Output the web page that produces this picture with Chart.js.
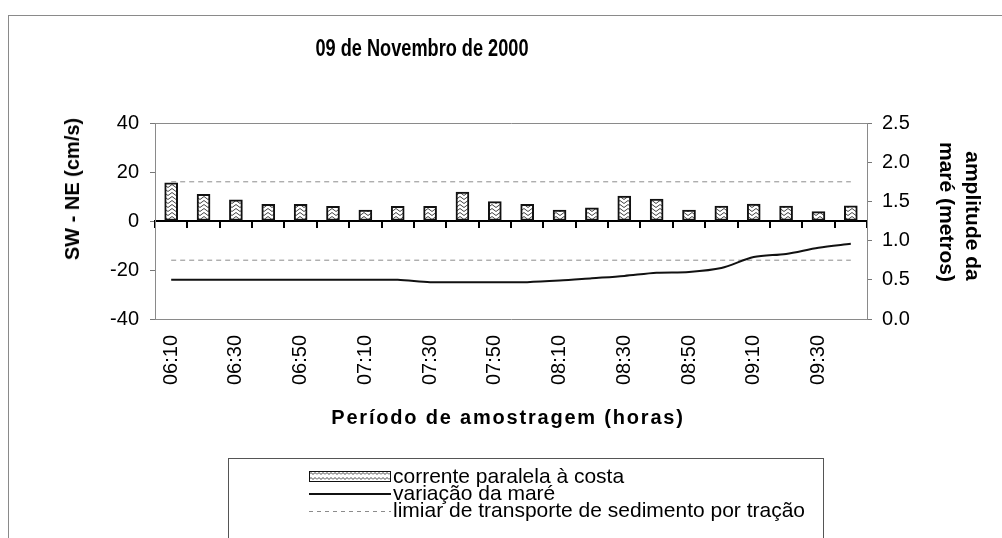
<!DOCTYPE html>
<html>
<head>
<meta charset="utf-8">
<script src="https://cdn.jsdelivr.net/npm/chart.js@4.4.0/dist/chart.umd.min.js"></script>
<style>
html,body{margin:0;padding:0;background:#fff;}
#wrap{position:relative;width:1002px;height:538px;overflow:hidden;font-family:"Liberation Sans",Arial,sans-serif;color:#000;}
#chart{position:absolute;left:0;top:0;}
#frame{position:absolute;left:8px;top:15px;width:1200px;height:800px;border-left:1px solid #8a8a8a;border-top:1px solid #8a8a8a;}
.txt{position:absolute;white-space:nowrap;line-height:1;}
#title{left:422px;top:48px;font-weight:bold;font-size:23px;transform:translate(-50%,-50%) scaleX(0.79);}
#ytitle{left:72px;top:189px;font-weight:bold;font-size:20px;transform:translate(-50%,-50%) rotate(-90deg);}
#y1title1{left:973px;top:216px;font-weight:bold;font-size:21px;transform:translate(-50%,-50%) rotate(90deg);}
#y1title2{left:947px;top:212px;font-weight:bold;font-size:21px;transform:translate(-50%,-50%) rotate(90deg);}
#xtitle{left:508px;top:417px;font-weight:bold;font-size:20px;letter-spacing:1.8px;transform:translate(-50%,-50%);}
#legend{position:absolute;left:228px;top:458px;width:594px;height:120px;border:1px solid #555;}
.lg{position:absolute;left:80px;height:18px;}
.lg canvas{position:absolute;left:0;top:4px;}
.lg span{position:absolute;left:84px;top:0;font-size:21px;line-height:18px;white-space:nowrap;}
</style>
</head>
<body>
<div id="wrap">
  <div id="frame"></div>
  <canvas id="chart" width="1002" height="538"></canvas>
  <div class="txt" id="title">09 de Novembro de 2000</div>
  <div class="txt" id="ytitle">SW - NE (cm/s)</div>
  <div class="txt" id="y1title1">amplitude da</div>
  <div class="txt" id="y1title2">maré (metros)</div>
  <div class="txt" id="xtitle">Período de amostragem (horas)</div>
  <div id="legend">
    <div class="lg" style="top:8px"><canvas id="sw1" width="82" height="11"></canvas><span>corrente paralela à costa</span></div>
    <div class="lg" style="top:25px"><canvas id="sw2" width="82" height="11"></canvas><span>variação da maré</span></div>
    <div class="lg" style="top:42px"><canvas id="sw3" width="82" height="11"></canvas><span>limiar de transporte de sedimento por tração</span></div>
  </div>
</div>
<script>
// ---- data ----
const categories = ["06:10","06:20","06:30","06:40","06:50","07:00","07:10","07:20","07:30","07:40","07:50",
                    "08:00","08:10","08:20","08:30","08:40","08:50","09:00","09:10","09:20","09:30","09:40"];
const xTickLabels = ["06:10","","06:30","","06:50","","07:10","","07:30","","07:50",
                     "","08:10","","08:30","","08:50","","09:10","","09:30",""];
const currentValues = [15.6,10.9,8.6,6.8,6.8,6.0,4.5,6.0,6.0,11.8,7.9,6.8,4.5,5.4,10.2,8.9,4.5,6.1,6.9,6.1,3.8,6.2];
const tideValues = [0.50,0.50,0.50,0.50,0.50,0.50,0.50,0.50,0.47,0.47,0.47,0.47,0.49,0.52,0.55,0.59,0.60,0.65,0.79,0.83,0.91,0.96];
const thresholdUpper = [16,16,16,16,16,16,16,16,16,16,16,16,16,16,16,16,16,16,16,16,16,16];
const thresholdLower = [-16,-16,-16,-16,-16,-16,-16,-16,-16,-16,-16,-16,-16,-16,-16,-16,-16,-16,-16,-16,-16,-16];
const leftTicks = [-40,-20,0,20,40];
const rightTicks = [0,0.5,1,1.5,2,2.5];

// ---- pattern ----
function makePattern(ctx, horizontal){
  const t = document.createElement('canvas');
  t.width = 8; t.height = horizontal ? 5 : 4;
  const c = t.getContext('2d');
  c.fillStyle = '#fff'; c.fillRect(0,0,t.width,t.height);
  c.strokeStyle = '#444'; c.lineWidth = 1;
  c.beginPath();
  if (horizontal){ c.moveTo(0,3.5); c.lineTo(2,1.5); c.lineTo(4,3.5); c.lineTo(6,1.5); c.lineTo(8,3.5); }
  else { c.moveTo(0,3.5); c.lineTo(4,0.5); c.lineTo(8,3.5); }
  c.stroke();
  return ctx.createPattern(t,'repeat');
}

const canvas = document.getElementById('chart');
const ctx = canvas.getContext('2d');
const barPattern = makePattern(ctx, false);
const FONT = "'Liberation Sans', Arial, sans-serif";

new Chart(ctx, {
  type: 'bar',
  data: {
    labels: categories,
    datasets: [
      { type:'line', label:'limiar de transporte de sedimento por tração', data: thresholdUpper, yAxisID:'y', xAxisID:'x',
        borderColor:'#8c8c8c', borderWidth:1, borderDash:[5,4], pointRadius:0, fill:false, order:1 },
      { type:'line', label:'limiar inferior', data: thresholdLower, yAxisID:'y', xAxisID:'x',
        borderColor:'#8c8c8c', borderWidth:1, borderDash:[5,4], pointRadius:0, fill:false, order:1 },
      { type:'line', label:'variação da maré', data: tideValues, yAxisID:'y1', xAxisID:'x',
        borderColor:'#111', borderWidth:2, pointRadius:0, tension:0.3, fill:false, order:0 },
      { type:'bar', label:'corrente paralela à costa', data: currentValues, yAxisID:'y', xAxisID:'x',
        backgroundColor: barPattern, borderColor:'#111', borderWidth:2, borderSkipped:false,
        barThickness:13, order:2 }
    ]
  },
  options: {
    responsive:false, animation:false, devicePixelRatio:1,
    layout:{ padding:{ top:123, left:0, right:0, bottom:0 } },
    plugins:{ legend:{display:false}, title:{display:false}, tooltip:{enabled:false} },
    scales:{
      x:{ type:'category', position:'bottom', offset:true,
          grid:{ display:true, offset:true, drawOnChartArea:false, drawTicks:false },
          border:{ display:true, color:'#8a8a8a', width:1 },
          ticks:{ autoSkip:false, minRotation:90, maxRotation:90, padding:16, color:'#000',
                  font:{ size:20, family:FONT }, callback:(v,i)=>xTickLabels[i] },
          afterFit:s=>{ s.height = 219; } },
      x2:{ type:'category', axis:'x', position:{ y:0 }, offset:true, labels: categories,
           grid:{ display:true, offset:true, drawOnChartArea:false, drawTicks:true, tickLength:6, tickColor:'#000', lineWidth:2 },
           border:{ display:true, color:'#000', width:2 },
           ticks:{ display:false } },
      y:{ type:'linear', position:'left', min:-40, max:40,
          afterBuildTicks:s=>{ s.ticks = leftTicks.map(v=>({value:v})); },
          ticks:{ padding:11, color:'#000', font:{ size:20, family:FONT } },
          grid:{ drawOnChartArea:true, drawTicks:true, tickLength:5, tickColor:'#777',
                 color:c=> (c.tick && c.tick.value===40) ? '#8a8a8a' : 'rgba(0,0,0,0)' },
          border:{ display:true, color:'#8a8a8a', width:1 },
          afterFit:s=>{ s.width = 155; } },
      y1:{ type:'linear', position:'right', min:0, max:2.5,
           afterBuildTicks:s=>{ s.ticks = rightTicks.map(v=>({value:v})); },
           ticks:{ padding:10, color:'#000', font:{ size:20, family:FONT }, callback:v=>Number(v).toFixed(1) },
           grid:{ drawOnChartArea:false, drawTicks:true, tickLength:5, tickColor:'#777' },
           border:{ display:true, color:'#8a8a8a', width:1 },
           afterFit:s=>{ s.width = 135; } }
    }
  }
});

// ---- legend swatches ----
(function(){
  const c1 = document.getElementById('sw1').getContext('2d');
  c1.fillStyle = makePattern(c1, true); c1.fillRect(0,0,82,11);
  c1.strokeStyle = '#111'; c1.lineWidth = 1; c1.strokeRect(0.5,0.5,81,10);
  const c2 = document.getElementById('sw2').getContext('2d');
  c2.strokeStyle = '#111'; c2.lineWidth = 2; c2.beginPath(); c2.moveTo(0,6); c2.lineTo(82,6); c2.stroke();
  const c3 = document.getElementById('sw3').getContext('2d');
  c3.strokeStyle = '#8c8c8c'; c3.lineWidth = 1; c3.setLineDash([4,4]); c3.beginPath(); c3.moveTo(0,6.5); c3.lineTo(82,6.5); c3.stroke();
})();
</script>
</body>
</html>
